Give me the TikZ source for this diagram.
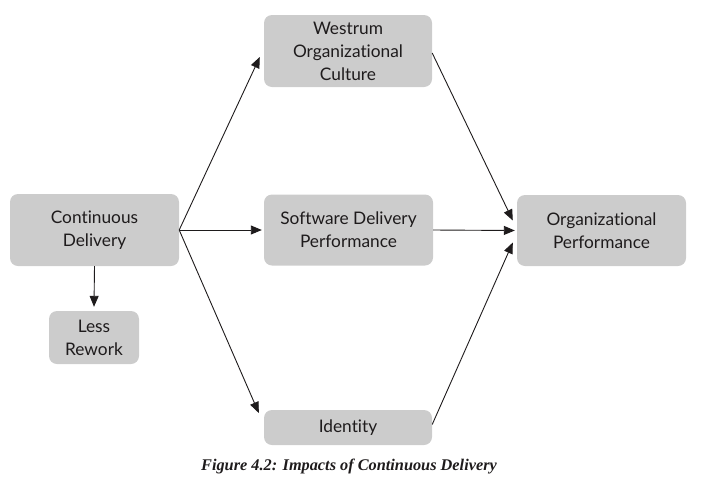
\documentclass[tikz,border=0pt]{standalone}
\usepackage{fontspec}
\setmainfont{Lato}[Ligatures=NoCommon]
\newfontfamily\capfont{Liberation Serif}
\usetikzlibrary{arrows.meta}
\definecolor{boxgray}{RGB}{204,204,204}
\definecolor{ink}{RGB}{30,27,28}
\tikzset{
  box/.style={draw=none, fill=boxgray, rounded corners=8pt, align=center,
    text=ink, font=\fontsize{17.3}{23}\selectfont, inner sep=0pt},
  arr/.style={draw=ink, line width=0.9pt, -{Triangle[length=11pt,width=9pt]}}
}
\begin{document}
\begin{tikzpicture}[x=1pt,y=-1pt]
\useasboundingbox (0,0) rectangle (725,485);
\node[box, minimum width=168pt, minimum height=72pt] (wes) at (348,51) {Westrum\\Organizational\\Culture};
\node[box, minimum width=169pt, minimum height=72pt] (cd) at (94.5,230) {Continuous\\Delivery};
\node[box, minimum width=169pt, minimum height=71pt] (sdp) at (348.5,230) {Software Delivery\\Performance};
\node[box, minimum width=169pt, minimum height=71pt] (op) at (601.5,230.5) {Organizational\\Performance};
\node[box, minimum width=90pt, minimum height=53pt] (lr) at (94,337.5) {Less\\Rework};
\node[box, minimum width=168pt, minimum height=35pt] (id) at (348,427.5) {Identity};
\node[text=ink, font=\capfont\bfseries\itshape\fontsize{16.3}{18}\selectfont] (cap) at (349,467) {Figure 4.2: Impacts of Continuous Delivery};
\draw[arr] (cd.east) -- ([xshift=-4pt,yshift=-6pt]wes.west);
\draw[arr] (cd.east) -- ([xshift=-2pt]sdp.west);
\draw[arr] (cd.east) -- ([xshift=-5pt,yshift=14.5pt]id.west);
\draw[arr] (cd.south) -- ([yshift=4pt]lr.north);
\draw[arr] ([yshift=-2pt]wes.east) -- ([xshift=-4pt,yshift=10pt]op.west);
\draw[arr] (sdp.east) -- ([xshift=-2pt]op.west);
\draw[arr] ([yshift=3pt]id.east) -- ([xshift=-4pt,yshift=-12pt]op.west);
\end{tikzpicture}
\end{document}
